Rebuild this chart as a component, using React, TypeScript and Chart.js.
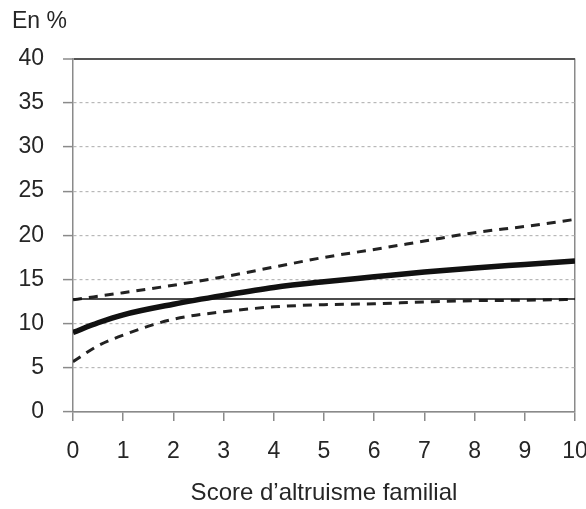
import React, { useEffect, useRef } from "react";
import { Chart, registerables } from "chart.js";

Chart.register(...registerables);

// Score d'altruisme familial (x) and the estimated probability in % (y)
const scores = [0, 0.5, 1, 2, 3, 4, 5, 6, 7, 8, 9, 10];
const estimate = [9.0, 10.1, 11.0, 12.2, 13.2, 14.1, 14.75, 15.3, 15.85, 16.3, 16.7, 17.1];
const upperBound = [12.7, 13.1, 13.5, 14.35, 15.3, 16.4, 17.5, 18.4, 19.35, 20.3, 21.0, 21.8];
const lowerBound = [5.7, 7.5, 8.7, 10.5, 11.35, 11.9, 12.15, 12.25, 12.45, 12.6, 12.65, 12.75];
const meanScores = [0, 10];
const meanLevel = [12.8, 12.8];

const yTicks = [0, 5, 10, 15, 20, 25, 30, 35, 40];
const xTicks = [0, 1, 2, 3, 4, 5, 6, 7, 8, 9, 10];

const toPoints = (xs: number[], ys: number[]) => xs.map((x, i) => ({ x, y: ys[i] }));

const FONT = "'Liberation Sans', Arial, sans-serif";
const TEXT = "#262626";
const AXIS = "#8a8a8a";

export default function App() {
  const ref = useRef<HTMLCanvasElement | null>(null);

  useEffect(() => {
    if (!ref.current) return;
    const chart = new Chart(ref.current, {
      type: "scatter",
      data: {
        datasets: [
          {
            label: "Moyenne",
            data: toPoints(meanScores, meanLevel),
            showLine: true,
            borderColor: "#111",
            borderWidth: 1.5,
            pointRadius: 0,
          },
          {
            label: "Borne inférieure",
            data: toPoints(scores, lowerBound),
            showLine: true,
            borderColor: "#222",
            borderWidth: 3,
            borderDash: [9, 7],
            pointRadius: 0,
            cubicInterpolationMode: "monotone",
          },
          {
            label: "Borne supérieure",
            data: toPoints(scores, upperBound),
            showLine: true,
            borderColor: "#222",
            borderWidth: 3,
            borderDash: [9, 7],
            pointRadius: 0,
            cubicInterpolationMode: "monotone",
          },
          {
            label: "Estimation",
            data: toPoints(scores, estimate),
            showLine: true,
            borderColor: "#111",
            borderWidth: 5.5,
            pointRadius: 0,
            cubicInterpolationMode: "monotone",
          },
        ],
      },
      options: {
        animation: false,
        responsive: false,
        devicePixelRatio: 1,
        layout: { padding: { left: 12, right: 11, top: 8, bottom: 0 } },
        plugins: {
          legend: { display: false },
          tooltip: { enabled: false },
          title: {
            display: true,
            text: "En %",
            align: "start",
            color: TEXT,
            font: { family: FONT, size: 23, weight: "normal" },
            padding: { top: 0, bottom: 23 },
          },
        },
        scales: {
          x: {
            type: "linear",
            min: 0,
            max: 10,
            afterBuildTicks: (scale: any) => {
              scale.ticks = xTicks.map((v) => ({ value: v }));
            },
            afterFit: (scale: any) => {
              scale.height = 97;
              scale.paddingLeft = 0;
              scale.paddingRight = 0;
            },
            ticks: {
              color: TEXT,
              font: { family: FONT, size: 23 },
              padding: 17,
              maxRotation: 0,
              autoSkip: false,
            },
            grid: {
              color: (ctx: any) => (ctx.tick && ctx.tick.value === 10 ? AXIS : "rgba(0,0,0,0)"),
              lineWidth: 1.5,
              tickColor: AXIS,
              tickWidth: 1.5,
              tickLength: 9,
            },
            border: { display: true, color: AXIS, width: 1.5 },
            title: {
              display: true,
              text: "Score d\u2019altruisme familial",
              color: TEXT,
              font: { family: FONT, size: 24 },
              padding: { top: 0, bottom: 1 },
            },
          },
          y: {
            type: "linear",
            min: 0,
            max: 40,
            afterBuildTicks: (scale: any) => {
              scale.ticks = yTicks.map((v) => ({ value: v }));
            },
            afterFit: (scale: any) => {
              scale.width = 61;
            },
            ticks: {
              color: TEXT,
              font: { family: FONT, size: 23 },
              padding: 19,
            },
            grid: {
              color: (ctx: any) => {
                const v = ctx.tick ? ctx.tick.value : null;
                if (v === 40) return "#555";
                if (v === 0) return AXIS;
                return "#b8b8b8";
              },
              lineWidth: (ctx: any) => (ctx.tick && ctx.tick.value === 40 ? 2 : 1.2),
              tickColor: AXIS,
              tickWidth: 1.5,
              tickLength: 10,
            },
            border: {
              display: true,
              color: AXIS,
              width: 1.5,
              dash: (ctx: any) => {
                const v = ctx.tick ? ctx.tick.value : null;
                return v === null || v === 0 || v === 40 ? [] : [3, 3];
              },
            },
          },
        },
      },
    } as any);
    return () => chart.destroy();
  }, []);

  return (
    <div style={{ position: "fixed", left: 0, top: 0, width: 586, height: 509, background: "#fff" }}>
      <canvas ref={ref} width={586} height={509} style={{ width: 586, height: 509, display: "block" }} />
    </div>
  );
}
